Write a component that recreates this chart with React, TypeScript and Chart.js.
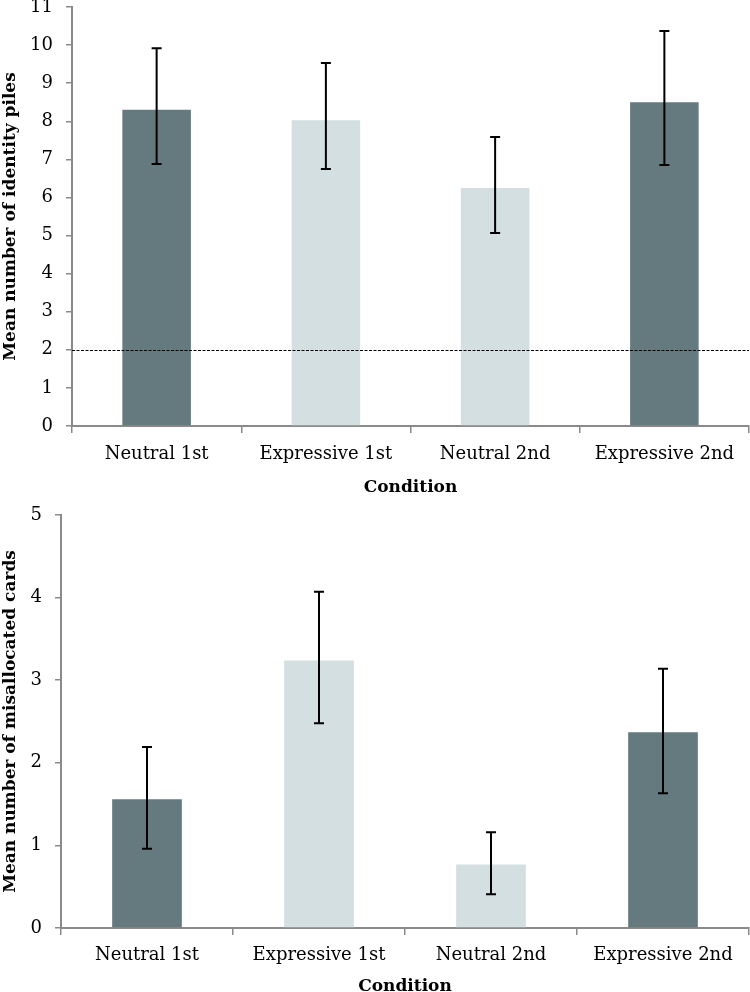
import React, { useEffect, useRef } from "react";
import { Chart, registerables } from "chart.js";

Chart.register(...registerables);

const categories = ["Neutral 1st", "Expressive 1st", "Neutral 2nd", "Expressive 2nd"];
const barColors = ["#657a7e", "#d3dfe0", "#d3dfe0", "#657a7e"];

// Top chart: identity piles
const pilesMeans = [8.3, 8.03, 6.25, 8.5];
const pilesErrLow = [6.88, 6.75, 5.07, 6.85];
const pilesErrHigh = [9.92, 9.53, 7.59, 10.37];
const pilesChance = 2;
const pilesTicks = [0, 1, 2, 3, 4, 5, 6, 7, 8, 9, 10, 11];

// Bottom chart: misallocated cards
const cardsMeans = [1.56, 3.24, 0.77, 2.37];
const cardsErrLow = [0.96, 2.48, 0.41, 1.63];
const cardsErrHigh = [2.19, 4.07, 1.16, 3.14];
const cardsTicks = [0, 1, 2, 3, 4, 5];

const yTitleTop = "Mean number of identity piles";
const yTitleBottom = "Mean number of misallocated cards";
const xTitle = "Condition";

const FONT = "'DejaVu Serif', serif";
const AXIS_COLOR = "#8a8a8a";

function makeErrorBarPlugin(low: number[], high: number[]) {
  return {
    id: "errorBars",
    afterDatasetsDraw(chart: any) {
      const meta = chart.getDatasetMeta(0);
      const y = chart.scales.y;
      const ctx = chart.ctx;
      ctx.save();
      ctx.strokeStyle = "#000";
      ctx.lineWidth = 2;
      meta.data.forEach((el: any, i: number) => {
        const x = el.x;
        const yl = y.getPixelForValue(low[i]);
        const yh = y.getPixelForValue(high[i]);
        ctx.beginPath();
        ctx.moveTo(x, yl);
        ctx.lineTo(x, yh);
        ctx.moveTo(x - 5, yl);
        ctx.lineTo(x + 5, yl);
        ctx.moveTo(x - 5, yh);
        ctx.lineTo(x + 5, yh);
        ctx.stroke();
      });
      ctx.restore();
    },
  };
}

function makeChancePlugin(level: number | null) {
  return {
    id: "chanceLine",
    afterDatasetsDraw(chart: any) {
      if (level === null) return;
      const y = chart.scales.y;
      const { left, right } = chart.chartArea;
      const py = Math.round(y.getPixelForValue(level)) + 0.5;
      const ctx = chart.ctx;
      ctx.save();
      ctx.strokeStyle = "#000";
      ctx.lineWidth = 1;
      ctx.setLineDash([3, 1.5]);
      ctx.beginPath();
      ctx.moveTo(left, py);
      ctx.lineTo(right, py);
      ctx.stroke();
      ctx.restore();
    },
  };
}

type Cfg = {
  means: number[];
  low: number[];
  high: number[];
  ticks: number[];
  yTitle: string;
  chance: number | null;
  yWidth: number;
  xHeight: number;
  padTop: number;
  padBottom: number;
  xTickPad: number;
};

function BarChart({ cfg, top, height }: { cfg: Cfg; top: number; height: number }) {
  const ref = useRef<HTMLCanvasElement>(null);
  useEffect(() => {
    if (!ref.current) return;
    const maxTick = cfg.ticks[cfg.ticks.length - 1];
    const chart = new Chart(ref.current, {
      type: "bar",
      data: {
        labels: categories,
        datasets: [
          {
            data: cfg.means,
            backgroundColor: barColors,
            borderWidth: 0,
            categoryPercentage: 1,
            barPercentage: 0.405,
          },
        ],
      },
      options: {
        animation: false,
        responsive: false,
        maintainAspectRatio: false,
        layout: { padding: { top: cfg.padTop, bottom: cfg.padBottom, left: 0, right: 1 } },
        plugins: { legend: { display: false }, tooltip: { enabled: false }, title: { display: false } },
        scales: {
          x: {
            grid: {
              display: true,
              drawOnChartArea: false,
              drawTicks: true,
              tickLength: 7,
              color: AXIS_COLOR,
              lineWidth: 1.5,
              offset: true,
            },
            border: { display: true, color: AXIS_COLOR, width: 2 },
            ticks: { color: "#000", font: { family: FONT, size: 18 }, padding: cfg.xTickPad, maxRotation: 0 },
            title: {
              display: true,
              text: xTitle,
              color: "#000",
              font: { family: FONT, size: 17, weight: "bold" },
              padding: 0,
            },
            afterFit: (s: any) => {
              s.height = cfg.xHeight;
            },
          },
          y: {
            min: 0,
            max: maxTick,
            afterBuildTicks: (s: any) => {
              s.ticks = cfg.ticks.map((v) => ({ value: v }));
            },
            grid: {
              display: true,
              drawOnChartArea: false,
              drawTicks: true,
              tickLength: 6,
              color: AXIS_COLOR,
              lineWidth: 1.5,
            },
            border: { display: true, color: AXIS_COLOR, width: 2 },
            ticks: { color: "#000", font: { family: FONT, size: 18 }, padding: 13 },
            title: {
              display: true,
              text: cfg.yTitle,
              color: "#000",
              font: { family: FONT, size: 17, weight: "bold" },
              padding: 0,
            },
            afterFit: (s: any) => {
              s.width = cfg.yWidth;
            },
          },
        },
      },
      plugins: [makeErrorBarPlugin(cfg.low, cfg.high), makeChancePlugin(cfg.chance)],
    });
    return () => chart.destroy();
  }, []);
  return (
    <canvas
      ref={ref}
      width={750}
      height={height}
      style={{ position: "absolute", left: 0, top, width: 750, height }}
    />
  );
}

export default function App() {
  const topCfg: Cfg = {
    means: pilesMeans,
    low: pilesErrLow,
    high: pilesErrHigh,
    ticks: pilesTicks,
    yTitle: yTitleTop,
    chance: pilesChance,
    yWidth: 72,
    xHeight: 72,
    padTop: 27,
    padBottom: 2,
    xTickPad: 11,
  };
  const bottomCfg: Cfg = {
    means: cardsMeans,
    low: cardsErrLow,
    high: cardsErrHigh,
    ticks: cardsTicks,
    yTitle: yTitleBottom,
    chance: null,
    yWidth: 61,
    xHeight: 69,
    padTop: 25,
    padBottom: 13,
    xTickPad: 10,
  };
  return (
    <div
      style={{
        position: "absolute",
        left: 0,
        top: 0,
        width: 750,
        height: 992,
        overflow: "hidden",
        background: "#fff",
      }}
    >
      <BarChart cfg={topCfg} top={-20} height={520} />
      <BarChart cfg={bottomCfg} top={490} height={520} />
    </div>
  );
}
